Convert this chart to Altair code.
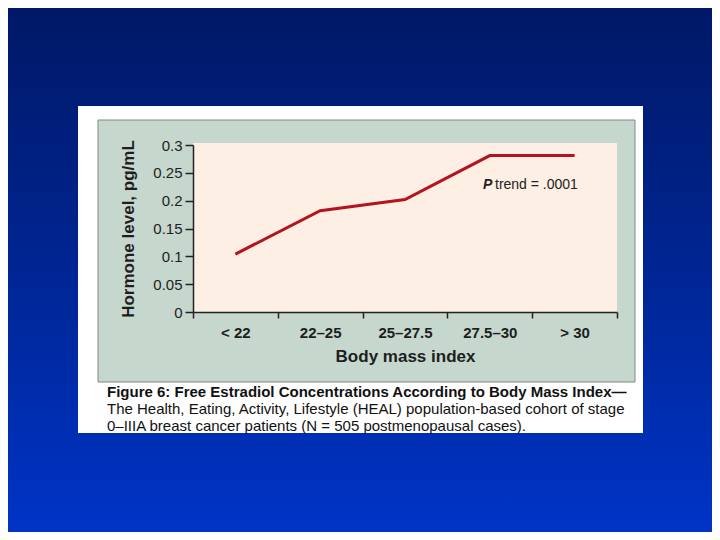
import altair as alt
import pandas as pd

# ---- data ----
bmi_categories = ["< 22", "22–25", "25–27.5", "27.5–30", "> 30"]
hormone_levels = [0.104, 0.182, 0.202, 0.281, 0.281]
y_ticks = [0, 0.05, 0.1, 0.15, 0.2, 0.25, 0.3]

caption_lines = [
    "Figure 6: Free Estradiol Concentrations According to Body Mass Index—",
    "The Health, Eating, Activity, Lifestyle (HEAL) population-based cohort of stage",
    "0–IIIA breast cancer patients (N = 505 postmenopausal cases).",
]

df = pd.DataFrame({"bmi": bmi_categories, "level": hormone_levels})
one = alt.Data(values=[{"k": 0}])

FONT = "Liberation Sans"
W, H = 424, 167

# ---- decorative layers (slide background, white card, green panel, peach plot area) ----
bg = alt.Chart(one).mark_rect(
    color=alt.LinearGradient(
        gradient="linear",
        stops=[alt.GradientStop(color="#001866", offset=0),
               alt.GradientStop(color="#00248f", offset=0.45),
               alt.GradientStop(color="#0034c6", offset=1)],
        x1=0, x2=0, y1=0, y2=1,
    )
).encode(x=alt.value(-185), x2=alt.value(519), y=alt.value(-137), y2=alt.value(387))

card = alt.Chart(one).mark_rect(color="white").encode(
    x=alt.value(-115), x2=alt.value(450), y=alt.value(-39), y2=alt.value(288)
)

panel = alt.Chart(one).mark_rect(fill="#c6d7ce", stroke="#7d8a84", strokeWidth=1).encode(
    x=alt.value(-95), x2=alt.value(442), y=alt.value(-25), y2=alt.value(237)
)

plotbg = alt.Chart(one).mark_rect(color="#fdefe3").encode(
    x=alt.value(0), x2=alt.value(W), y=alt.value(-2), y2=alt.value(H)
)

# ---- the data line with axes ----
line = alt.Chart(df).mark_line(color="#b3141f", strokeWidth=3).encode(
    x=alt.X(
        "bmi:N",
        sort=bmi_categories,
        bandPosition=0.5,
        scale=alt.Scale(type="band", paddingInner=0, paddingOuter=0),
        axis=alt.Axis(
            title="Body mass index",
            labelAngle=0,
            tickBand="extent",
            tickSize=6,
            labelPadding=7,
            labelFont=FONT, labelFontSize=15, labelFontWeight="bold", labelColor="#1e1e1e",
            titleFont=FONT, titleFontSize=17, titleFontWeight="bold", titleColor="#1e1e1e",
            titlePadding=8,
            domainColor="#222222", tickColor="#222222", domainWidth=1.5, tickWidth=1.5,
            zindex=2,
        ),
    ),
    y=alt.Y(
        "level:Q",
        scale=alt.Scale(domain=[0, 0.3], nice=False, zero=True),
        axis=alt.Axis(
            title="Hormone level, pg/mL",
            values=y_ticks,
            format=".2~f",
            grid=False,
            tickSize=8,
            labelPadding=3,
            labelFont=FONT, labelFontSize=15, labelColor="#1e1e1e",
            titleFont=FONT, titleFontSize=17, titleFontWeight="bold", titleColor="#1e1e1e",
            titlePadding=15,
            domainColor="#222222", tickColor="#222222", domainWidth=1.5, tickWidth=1.5,
            zindex=2,
        ),
    ),
)

# ---- annotation ----
p_label = alt.Chart(one).mark_text(
    text="P", font=FONT, fontSize=14, fontStyle="italic", fontWeight="bold",
    align="left", baseline="middle", color="#222222",
).encode(x=alt.value(290), y=alt.value(40))

trend_label = alt.Chart(one).mark_text(
    text="trend = .0001", font=FONT, fontSize=14, align="left", baseline="middle",
    color="#222222",
).encode(x=alt.value(302), y=alt.value(40))

# ---- caption ----
cap1 = alt.Chart(one).mark_text(
    text=caption_lines[0], font=FONT, fontSize=15, fontWeight="bold",
    align="left", baseline="middle", color="#111111",
).encode(x=alt.value(-86), y=alt.value(247))
cap2 = alt.Chart(one).mark_text(
    text=caption_lines[1], font=FONT, fontSize=15,
    align="left", baseline="middle", color="#111111",
).encode(x=alt.value(-86), y=alt.value(264))
cap3 = alt.Chart(one).mark_text(
    text=caption_lines[2], font=FONT, fontSize=15,
    align="left", baseline="middle", color="#111111",
).encode(x=alt.value(-86), y=alt.value(281))

chart = alt.layer(
    bg, card, panel, plotbg, line, p_label, trend_label, cap1, cap2, cap3
).properties(
    width=W,
    height=H,
    autosize=alt.AutoSizeParams(type="none"),
    padding={"left": 185, "top": 137, "right": 95, "bottom": 220},
    background="#001d78",
).configure_view(strokeWidth=0)

chart.save("out.html", embed_options={"renderer": "svg", "actions": False})
